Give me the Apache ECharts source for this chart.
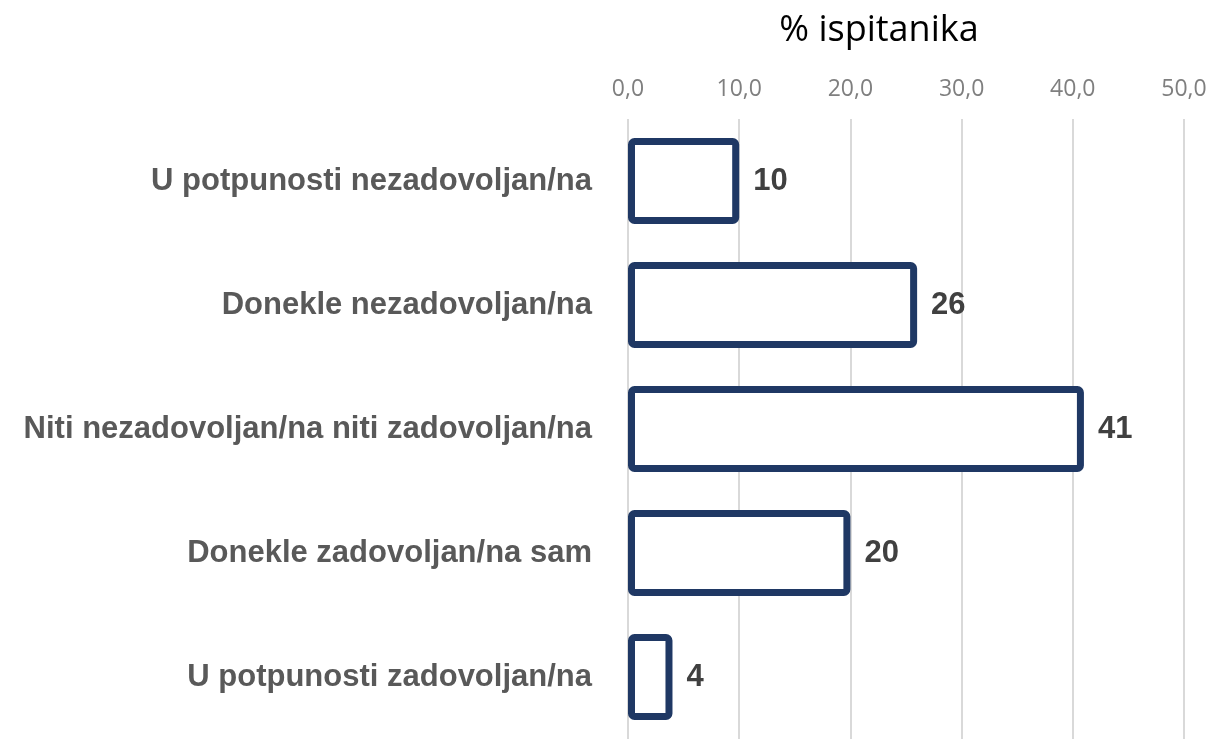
<!DOCTYPE html>
<html>
<head>
<meta charset="utf-8">
<script src="https://cdn.jsdelivr.net/npm/echarts@6/dist/echarts.min.js"></script>
<style>
  html, body { margin: 0; padding: 0; background: #fff; }
  #chart { width: 1211px; height: 739px; }
</style>
</head>
<body>
<div id="chart"></div>
<script>
// podaci
var categories = [
  "U potpunosti nezadovoljan/na",
  "Donekle nezadovoljan/na",
  "Niti nezadovoljan/na niti zadovoljan/na",
  "Donekle zadovoljan/na sam",
  "U potpunosti zadovoljan/na"
];
var values = [10, 26, 41, 20, 4];
var axisTitle = "% ispitanika";

var myChart = echarts.init(document.getElementById("chart"));
var option = {
  animation: false,
  title: {
    text: axisTitle,
    left: 874,
    top: 8,
    textAlign: "center",
    textStyle: {
      color: "#000000",
      fontSize: 36,
      fontWeight: "normal",
      fontFamily: "Open Sans"
    }
  },
  grid: {
    left: 628,
    right: 27,
    top: 119,
    bottom: -4
  },
  xAxis: {
    type: "value",
    position: "top",
    min: 0,
    max: 50,
    interval: 10,
    axisLine: { show: false },
    axisTick: { show: false },
    axisLabel: {
      color: "#7f7f7f",
      fontSize: 23,
      fontFamily: "Open Sans",
      margin: 18,
      formatter: function (v) {
        return v.toFixed(1).replace(".", ",");
      }
    },
    splitLine: {
      lineStyle: { color: "#d9d9d9", width: 2 }
    }
  },
  yAxis: {
    type: "category",
    inverse: true,
    data: categories,
    axisLine: { show: false },
    axisTick: { show: false },
    axisLabel: {
      color: "#595959",
      fontSize: 31,
      fontWeight: "bold",
      fontFamily: "Liberation Sans",
      margin: 36
    }
  },
  series: [
    {
      type: "bar",
      data: values,
      barWidth: 86,
      itemStyle: {
        color: "#ffffff",
        borderColor: "#1f3864",
        borderWidth: 7,
        borderRadius: 3
      },
      label: {
        show: true,
        position: "right",
        distance: 14,
        color: "#404040",
        fontSize: 31,
        fontWeight: "bold",
        fontFamily: "Liberation Sans"
      }
    }
  ]
};
myChart.setOption(option);
</script>
</body>
</html>
